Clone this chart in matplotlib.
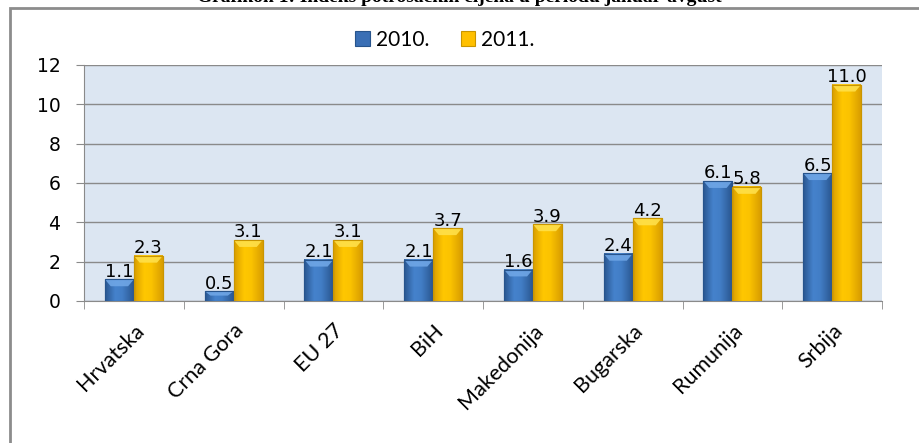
import matplotlib.pyplot as plt
import numpy as np
from matplotlib.patches import Rectangle, Polygon
from matplotlib.colors import to_rgb

# data
countries = ['Hrvatska', 'Crna Gora', 'EU 27', 'BiH', 'Makedonija', 'Bugarska', 'Rumunija', 'Srbija']
y2010 = [1.1, 0.5, 2.1, 2.1, 1.6, 2.4, 6.1, 6.5]
y2011 = [2.3, 3.1, 3.1, 3.7, 3.9, 4.2, 5.8, 11.0]
yticks = [0, 2, 4, 6, 8, 10, 12]

W, H = 919, 443
fig = plt.figure(figsize=(W / 100, H / 100), dpi=100)

# outer chart frame (runs off the right and bottom of the picture)
fig.patches.append(Rectangle((10 / W, -0.1), 1.2, 1 - 8 / H + 0.1, transform=fig.transFigure,
                             fill=False, edgecolor='#8c8c8c', linewidth=2))

# title, almost entirely cut off at the top in the reference
fig.text(0.5, 1 - 2.5 / H, 'Grafikon 1: Indeks potrošačkih cijena u periodu januar-avgust',
         ha='center', va='baseline', fontsize=14, fontweight='bold', family='Liberation Serif')

ax = fig.add_axes([84 / W, (H - 301) / H, (882 - 84) / W, (301 - 65) / H])
ax.set_facecolor('#dce6f2')

x = np.arange(len(countries))
bw = 0.29
b1 = ax.bar(x - bw / 2, y2010, bw, color='#3a6fb5', edgecolor='#27548c', linewidth=0.8, label='2010.', zorder=3)
b2 = ax.bar(x + bw / 2, y2011, bw, color='#ffc000', edgecolor='#c99500', linewidth=0.8, label='2011.', zorder=3)


def shade(bars, edge, mid, light, top):
    # horizontal gradient + lighter bevel at the top, like the office 3d-ish bars
    t = np.linspace(0, 1, 40)
    prof = np.interp(t, [0, 0.35, 0.6, 1], [0.0, 1.0, 0.9, 0.0])
    e, m = np.array(to_rgb(edge)), np.array(to_rgb(mid))
    img = (e[None, :] * (1 - prof[:, None]) + m[None, :] * prof[:, None])[None, :, :]
    for r in bars:
        x0, w, h = r.get_x(), r.get_width(), r.get_height()
        ax.imshow(img, extent=(x0, x0 + w, 0, h), aspect='auto', zorder=3.1, interpolation='bilinear')
        d = min(0.35, h * 0.45)
        ax.add_patch(Polygon([(x0, h), (x0 + w, h), (x0 + w * 0.8, h - d), (x0 + w * 0.2, h - d)],
                             closed=True, facecolor=light, edgecolor='none', alpha=0.9, zorder=3.2))
        ax.add_patch(Rectangle((x0, 0), w, h, fill=False, edgecolor=top, linewidth=0.8, zorder=3.3))


shade(b1, '#2a5791', '#4582cc', '#6fa6e6', '#27548c')
shade(b2, '#d99e00', '#ffc700', '#ffe04a', '#c99500')

for bars, vals in ((b1, y2010), (b2, y2011)):
    for r, v in zip(bars, vals):
        ax.annotate(f'{v:.1f}', (r.get_x() + r.get_width() / 2, v), xytext=(0, -1),
                    textcoords='offset points', ha='center', va='bottom',
                    fontsize=13, color='black', zorder=4)

ax.set_ylim(0, 12)
ax.set_xlim(-0.5, len(countries) - 0.5)
ax.set_yticks(yticks)
ax.yaxis.grid(True, color='#8a8a8a', linewidth=1, zorder=0)
ax.tick_params(axis='y', length=6, color='#8a8a8a', labelsize=13.5, pad=11)

ax.set_xticks(x)
ax.set_xticklabels(countries, rotation=45, ha='right', va='top', rotation_mode='anchor',
                   fontsize=15.5, family='Lato')
ax.set_xticks(np.arange(len(countries) + 1) - 0.5, minor=True)
ax.tick_params(axis='x', which='major', length=0, pad=14)
ax.tick_params(axis='x', which='minor', length=6, color='#8a8a8a')

for s in ['top', 'right']:
    ax.spines[s].set_visible(False)
ax.spines['left'].set_color('#8a8a8a')
ax.spines['bottom'].set_color('#8a8a8a')

fig.legend(handles=[b1, b2], loc='center', bbox_to_anchor=(445 / W, 1 - 40 / H), ncol=2,
           frameon=False, prop={'family': 'Lato', 'size': 15}, handlelength=0.7,
           handleheight=0.7, handletextpad=0.3, columnspacing=1.5)

fig.savefig('out.png', dpi=100)
